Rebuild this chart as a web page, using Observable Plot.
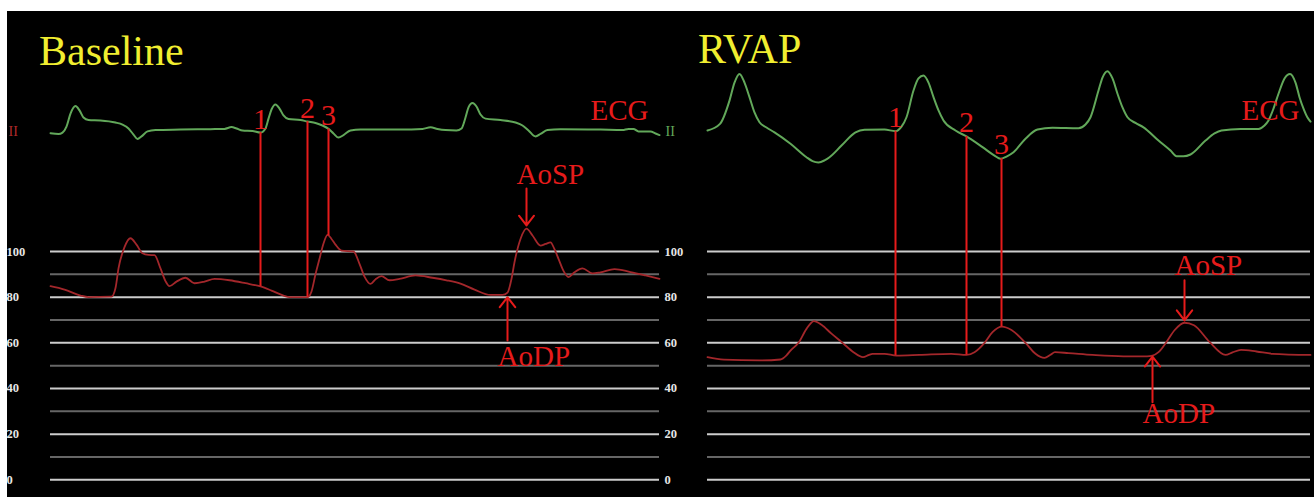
<!DOCTYPE html>
<html><head><meta charset="utf-8">
<script src="https://cdn.jsdelivr.net/npm/d3@7"></script>
<script src="https://cdn.jsdelivr.net/npm/@observablehq/plot@0.6"></script>
<style>
html,body{margin:0;padding:0;background:#fff;}
#stage{position:absolute;left:7px;top:11px;width:1307px;height:486px;background:#000;overflow:hidden;}
.title{position:absolute;font-family:"Liberation Serif",serif;font-size:42px;line-height:42px;color:#f0ee30;white-space:nowrap;}
#left,#right{position:absolute;top:0;}
#left{left:0}
#right{left:683px}
</style></head><body>
<div id="stage">
  <div id="left"></div><div id="right"></div>
  <div class="title" style="left:32px;top:19px">Baseline</div>
  <div class="title" style="left:691px;top:17px">RVAP</div>
</div>
<script>
// ---- Data (time in ms, ECG in mV, aortic pressure in mmHg) ----
const panelTitles = ["Baseline", "RVAP"];
const gridValues = [0,10,20,30,40,50,60,70,80,90,100];
const tickLabels = [0,20,40,60,80,100];
const markerLabels = ["1","2","3"];
const annLabels = ["AoSP","AoDP"];

// Baseline ECG
const blEcgT  = [0,32,48,64,80,100,116,132,152,200,260,288,312,332,348,364,388,420,520,640,696,724,744,768,808,840,860,872,884,900,916,932,952,1000,1028,1060,1088,1112,1132,1152,1172,1200,1240,1400,1488,1520,1548,1580,1624,1644,1660,1672,1688,1704,1720,1740,1800,1860,1888,1912,1940,1960,1988,2040,2200,2288,2312,2332,2352,2400,2420,2436];
const blEcgMv = [-0.15,-0.18,-0.12,0.14,0.71,1.04,0.85,0.54,0.43,0.41,0.32,0.23,0.06,-0.21,-0.40,-0.29,-0.07,-0.01,0.01,0.03,0.04,0.12,0.06,-0.03,-0.05,-0.12,0.06,0.49,0.89,1.11,0.93,0.63,0.47,0.43,0.36,0.30,0.19,0.04,-0.16,-0.34,-0.23,-0.03,0.01,0.01,0.04,0.11,0.04,-0.01,-0.03,0.06,0.54,0.98,1.17,1.02,0.67,0.49,0.43,0.32,0.19,-0.03,-0.29,-0.18,-0.01,0.03,0.01,-0.01,0.04,0.04,-0.07,-0.07,-0.16,-0.23];
// Baseline aortic pressure
const blAoT = [0,56,120,152,244,260,272,296,320,344,368,392,416,440,460,476,504,540,576,616,656,716,780,840,884,932,956,1028,1044,1060,1076,1092,1108,1124,1140,1164,1212,1236,1256,1280,1300,1324,1356,1396,1460,1528,1584,1640,1696,1760,1808,1828,1844,1856,1880,1904,1928,1960,1980,2000,2016,2032,2052,2072,2096,2128,2168,2200,2256,2320,2380,2436];
const blAoP = [84.8,83.3,80.7,80,80.2,84,92.6,101.9,105.8,103,99.2,98.5,98.4,92.6,87,84.8,86.8,88.5,86.1,86.8,88,87.4,86.1,84.7,82.9,80.7,80,80,82.5,90,96.8,103.5,107.3,105.5,103,100.4,100,94.6,89,85.8,87.8,89.2,87.4,88,89.5,88.5,87.4,85.9,83.3,81,81,82,88,95.3,105.5,110,107,102.6,103.3,104,101,96.8,91.5,88.8,90.9,92.6,90.4,90.9,92.3,91,89.5,88];
const blMarkerT = [840, 1028, 1112];
const blArrowT = [1904, 1828];
const blArrowTip = [111.4, 80.0];
const blArrowTail = [127.6, 61];
const blAnnY = [129.6, 50];

// RVAP ECG
const rvEcgT  = [0,50,88,108,128,148,168,188,208,236,268,332,396,420,444,468,488,536,592,628,708,752,776,796,824,844,864,884,904,924,944,992,1036,1100,1148,1172,1196,1224,1272,1320,1380,1484,1512,1532,1564,1580,1600,1620,1640,1660,1680,1712,1744,1804,1852,1876,1904,1932,1992,2028,2056,2132,2204,2228,2244,2264,2284,2308,2330,2352,2368,2384,2400,2412];
const rvEcgMv = [-0.03,0.26,1.28,2.07,2.45,2.07,1.43,0.76,0.33,0.10,-0.11,-0.61,-1.20,-1.37,-1.43,-1.34,-1.20,-0.69,-0.11,0,0.01,-0.06,0.14,0.55,1.72,2.25,2.38,2.07,1.43,0.85,0.41,-0.03,-0.29,-0.76,-1.13,-1.27,-1.17,-0.98,-0.39,0.01,0.09,0.07,0.23,0.55,1.72,2.29,2.57,2.25,1.58,0.98,0.55,0.30,0.11,-0.47,-0.91,-1.16,-1.16,-1.08,-0.47,-0.16,-0.03,0.04,0.04,0.19,0.41,0.93,1.58,2.25,2.45,2.07,1.43,0.93,0.54,0.36];
// RVAP aortic pressure
const rvAoT = [0,66,208,292,316,332,364,396,426,456,496,540,584,622,644,660,708,756,848,975,1036,1068,1108,1140,1178,1216,1272,1312,1348,1372,1390,1444,1540,1664,1758,1780,1804,1836,1868,1908,1946,2008,2072,2100,2134,2196,2260,2412];
const rvAoP = [53.7,52.6,52.3,52.7,54.5,56.6,60,66.1,69.5,67.9,64,60,55.9,53.7,54.6,55.2,55.2,54.4,54.7,55.2,54.7,55.9,60,64.7,67.1,65.6,60,55.2,53.4,54.8,55.9,55.5,54.7,54.1,54.1,54.4,55.9,60.4,65.5,68.8,67.7,60.4,54.7,55.8,56.9,56.2,55.2,54.7];
const rvMarkerT = [752, 1036, 1176];
const rvArrowT = [1908, 1780];
const rvArrowTip = [69.8, 54.0];
const rvArrowTail = [87.4, 34];
const rvAnnY = [89.8, 24.7];

// ---- Styling / layout constants ----
const ECG_OFFSET = 153.3;   // ECG baseline position in pressure units
const ECG_GAIN = 10;        // pressure units per mV
const ECG_LABEL_MV = 0.41;
const LEAD_LABEL_MV = -0.25;
const SERIF = "Liberation Serif, Times New Roman, serif";
const RED = "#e61b1b";
const AO_COLOR = "#a3272b";
const ECG_COLOR = "#62a85a";
const MAJOR = "#cccccc";
const MINOR = "#666666";
const TICK_COLOR = "#e6e6e6";

function interp(ts, vs, t) {
  for (let i = 1; i < ts.length; i++) {
    if (t <= ts[i]) {
      const f = (t - ts[i-1]) / (ts[i] - ts[i-1]);
      return vs[i-1] + f * (vs[i] - vs[i-1]);
    }
  }
  return vs[vs.length - 1];
}
const ecgY = mv => ECG_OFFSET + mv * ECG_GAIN;

function panel(cfg) {
  const ecg = cfg.ecgT.map((t, i) => ({t, y: ecgY(cfg.ecgMv[i])}));
  const ao = cfg.aoT.map((t, i) => ({t, p: cfg.aoP[i]}));
  const markers = cfg.markerT.map((t, i) => ({
    t, label: markerLabels[i],
    top: ecgY(interp(cfg.ecgT, cfg.ecgMv, t)),
    bottom: interp(cfg.aoT, cfg.aoP, t)
  }));
  const ann = annLabels.map((label, i) => ({
    label, t: cfg.arrowT[i], tip: cfg.arrowTip[i], tail: cfg.arrowTail[i], ty: cfg.annY[i]
  }));
  const marks = [
    Plot.ruleY(gridValues.filter(v => v % 20 !== 0), {y: d => d, stroke: MINOR, strokeWidth: 2}),
    Plot.ruleY(gridValues.filter(v => v % 20 === 0), {y: d => d, stroke: MAJOR, strokeWidth: 2}),
    Plot.line(ao, {x: "t", y: "p", stroke: AO_COLOR, strokeWidth: 1.8, curve: "monotone-x"}),
    Plot.line(ecg, {x: "t", y: "y", stroke: ECG_COLOR, strokeWidth: 2, curve: "monotone-x"}),
    Plot.ruleX(markers, {x: "t", y1: "top", y2: "bottom", stroke: RED, strokeWidth: 2}),
    Plot.text(markers, {x: "t", y: "top", text: "label", lineAnchor: "bottom", dy: -4, fill: RED, fontSize: 30, fontFamily: SERIF}),
    Plot.arrow(ann, {x1: "t", x2: "t", y1: "tail", y2: "tip", stroke: RED, strokeWidth: 2, headLength: 9.5, headAngle: 75}),
    Plot.text(ann, {x: "t", y: "ty", text: "label", textAnchor: "start", lineAnchor: "bottom", dx: -10, fill: RED, fontSize: 29, fontFamily: SERIF}),
    Plot.text(["ECG"], {frameAnchor: "right", y: () => ecgY(ECG_LABEL_MV), text: d => d, textAnchor: "end", lineAnchor: "bottom", dx: -11, fill: RED, fontSize: 29, fontFamily: SERIF})
  ];
  if (cfg.axes) {
    marks.push(
      Plot.text(tickLabels, {frameAnchor: "left", y: d => d, text: d => String(d), textAnchor: "start", dx: -44, fill: TICK_COLOR, fontSize: 12.5, fontWeight: "bold", fontFamily: SERIF}),
      Plot.text(tickLabels, {frameAnchor: "right", y: d => d, text: d => String(d), textAnchor: "start", dx: 5, fill: TICK_COLOR, fontSize: 12.5, fontWeight: "bold", fontFamily: SERIF}),
      Plot.text(["II"], {frameAnchor: "left", y: () => ecgY(LEAD_LABEL_MV), text: d => d, textAnchor: "start", lineAnchor: "bottom", dx: -42, fill: "#b02a2a", fontSize: 14, fontFamily: SERIF}),
      Plot.text(["II"], {frameAnchor: "right", y: () => ecgY(LEAD_LABEL_MV), text: d => d, textAnchor: "start", lineAnchor: "bottom", dx: 6, fill: ECG_COLOR, fontSize: 14, fontFamily: SERIF})
    );
  }
  return Plot.plot({
    width: cfg.width, height: 486,
    marginTop: 240, marginBottom: 17.7, marginLeft: cfg.marginLeft, marginRight: cfg.marginRight,
    x: {domain: [0, cfg.tMax], axis: null},
    y: {domain: [0, 100], axis: null},
    style: {background: "transparent"},
    ariaLabel: cfg.title,
    marks
  });
}

document.getElementById("left").append(panel({
  title: panelTitles[0], ecgT: blEcgT, ecgMv: blEcgMv, aoT: blAoT, aoP: blAoP,
  markerT: blMarkerT, arrowT: blArrowT, arrowTip: blArrowTip, arrowTail: blArrowTail, annY: blAnnY,
  tMax: 2436, width: 683, marginLeft: 43, marginRight: 31, axes: true
}));
document.getElementById("right").append(panel({
  title: panelTitles[1], ecgT: rvEcgT, ecgMv: rvEcgMv, aoT: rvAoT, aoP: rvAoP,
  markerT: rvMarkerT, arrowT: rvArrowT, arrowTip: rvArrowTip, arrowTail: rvArrowTail, annY: rvAnnY,
  tMax: 2412, width: 624, marginLeft: 17, marginRight: 4, axes: false
}));
</script>
</body></html>
